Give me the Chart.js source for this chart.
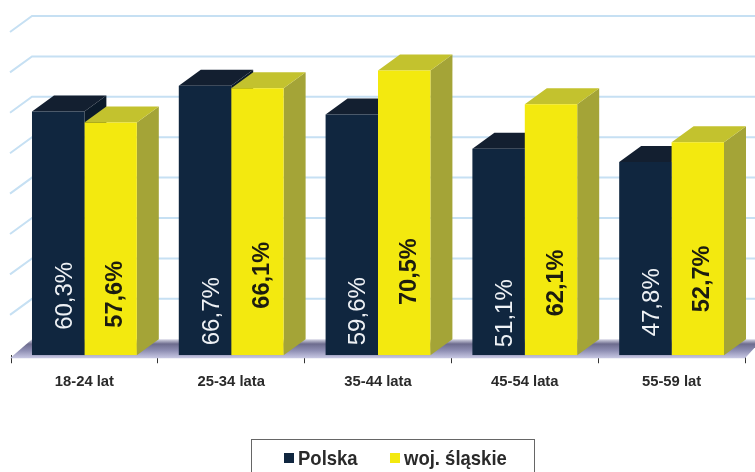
<!DOCTYPE html>
<html>
<head>
  <meta charset="UTF-8">
  <title>Polska / woj. śląskie</title>
  <script src="https://cdn.jsdelivr.net/npm/chart.js"></script>
  <style>
    html, body {
      margin: 0;
      padding: 0;
      background: #fff;
      overflow: hidden;
    }
    #wrap {
      position: relative;
      width: 755px;
      height: 472px;
      overflow: hidden;
    }
    #chart {
      position: absolute;
      left: 0;
      top: 0;
    }
    #legend {
      position: absolute;
      left: 251px;
      top: 439px;
      width: 282px;
      height: 50px;
      border: 1.5px solid #666;
      font: bold 18.5px "Liberation Sans", Arial, sans-serif;
      color: #2a2a2a;
    }
    #legend span {
      position: absolute;
      top: 7px;
      line-height: 22px;
      white-space: nowrap;
      transform: scaleY(1.1);
    }
    #legend i {
      position: absolute;
      top: 13px;
      width: 10px;
      height: 10px;
    }
  </style>
</head>
<body>
<div id="wrap">
  <canvas id="chart" width="755" height="472"></canvas>
  <div id="legend">
    <i style="left:32px;background:#10263f"></i><span style="left:46px">Polska</span>
    <i style="left:138px;background:#f3e90f"></i><span style="left:152px">woj. śląskie</span>
  </div>
</div>

<script>
  const categories = ['18-24 lat', '25-34 lata', '35-44 lata', '45-54 lata', '55-59 lat'];
  const polska = [60.3, 66.7, 59.6, 51.1, 47.8];
  const slaskie = [57.6, 66.1, 70.5, 62.1, 52.7];

  // where the rotated labels sit, in axis units (they are not aligned in the original)
  const polskaLabelAt = [14.7, 10.9, 10.9, 10.4, 13.1];
  const slaskieLabelAt = [15.1, 19.8, 20.7, 17.9, 18.9];

  const DX = 22, DY = 16; // depth of the fake 3d

  function poly(ctx, pts, fill) {
    ctx.beginPath();
    pts.forEach((p, i) => i ? ctx.lineTo(p[0], p[1]) : ctx.moveTo(p[0], p[1]));
    ctx.closePath();
    ctx.fillStyle = fill;
    ctx.fill();
  }

  const faces = [
    { top: '#131f30', side: '#0b1a2a' },
    { top: '#c3c22e', side: '#a4a437' }
  ];

  const box3d = {
    id: 'box3d',
    beforeDatasetsDraw(chart) {
      const ctx = chart.ctx;
      const y = chart.scales.y;
      const area = chart.chartArea;
      const y0 = y.getPixelForValue(0);

      ctx.save();
      // grid on the back wall and left wall
      ctx.strokeStyle = '#c6e0f3';
      ctx.lineWidth = 2;
      y.ticks.forEach(t => {
        if (t.value === 0) return;
        const py = y.getPixelForValue(t.value);
        ctx.beginPath();
        ctx.moveTo(area.left - 1, py);
        ctx.lineTo(area.left + DX - 1, py - DY);
        ctx.lineTo(755, py - DY);
        ctx.stroke();
      });

      // floor
      const g = ctx.createLinearGradient(0, y0 - DY, 0, y0 + 3);
      g.addColorStop(0, '#d8d8e6');
      g.addColorStop(0.25, '#6d6c8e');
      g.addColorStop(0.6, '#8f8fb4');
      g.addColorStop(1, '#c9c9e4');
      poly(ctx, [
        [area.left - 1, y0 + 3], [area.left + DX - 1, y0 - DY],
        [755, y0 - DY], [755, y0 - 8], [area.right, y0 + 3]
      ], g);

      // top and side faces, dark series first so yellow lands over it
      chart.data.datasets.forEach((ds, i) => {
        chart.getDatasetMeta(i).data.forEach(bar => {
          const l = bar.x - bar.width / 2, r = bar.x + bar.width / 2;
          poly(ctx, [[r, bar.y], [r + DX, bar.y - DY], [r + DX, bar.base - DY], [r, bar.base]], faces[i].side);
          poly(ctx, [[l, bar.y], [l + DX, bar.y - DY], [r + DX, bar.y - DY], [r, bar.y]], faces[i].top);
        });
      });
      ctx.restore();
    },
    afterDatasetsDraw(chart) {
      const ctx = chart.ctx;
      const y = chart.scales.y;
      const labelAt = [polskaLabelAt, slaskieLabelAt];
      chart.data.datasets.forEach((ds, i) => {
        chart.getDatasetMeta(i).data.forEach((bar, j) => {
          ctx.save();
          ctx.translate(bar.x + (i === 0 ? 7 : 5), y.getPixelForValue(labelAt[i][j]));
          ctx.rotate(-Math.PI / 2);
          ctx.textAlign = 'center';
          ctx.textBaseline = 'middle';
          ctx.font = i === 0 ? '24px "Liberation Sans", Arial, sans-serif' : 'bold 23.6px "Liberation Sans", Arial, sans-serif';
          ctx.fillStyle = i === 0 ? '#eef1f5' : '#1c1c10';
          ctx.fillText(ds.data[j].toFixed(1).replace('.', ',') + '%', 0, 0);
          ctx.restore();
        });
      });
    }
  };

  new Chart(document.getElementById('chart'), {
    type: 'bar',
    data: {
      labels: categories,
      datasets: [
        { label: 'Polska', data: polska, backgroundColor: '#10263f' },
        { label: 'woj. śląskie', data: slaskie, backgroundColor: '#f3e90f' }
      ]
    },
    options: {
      responsive: false,
      animation: false,
      layout: { padding: { left: 11, right: 10, top: 32, bottom: 71 } },
      plugins: { legend: { display: false }, tooltip: { enabled: false } },
      datasets: { bar: { barPercentage: 1, categoryPercentage: 0.714 } },
      scales: {
        x: {
          border: { display: false },
          grid: { drawOnChartArea: false, color: '#333', tickLength: 8, lineWidth: 1 },
          ticks: {
            color: '#2a2a2a',
            padding: 10,
            maxRotation: 0,
            font: { family: '"Liberation Sans", Arial, sans-serif', size: 14.8, weight: 'bold' }
          }
        },
        y: {
          min: 0,
          max: 80,
          display: false,
          ticks: { stepSize: 10 }
        }
      }
    },
    plugins: [box3d]
  });
</script>
</body>
</html>
